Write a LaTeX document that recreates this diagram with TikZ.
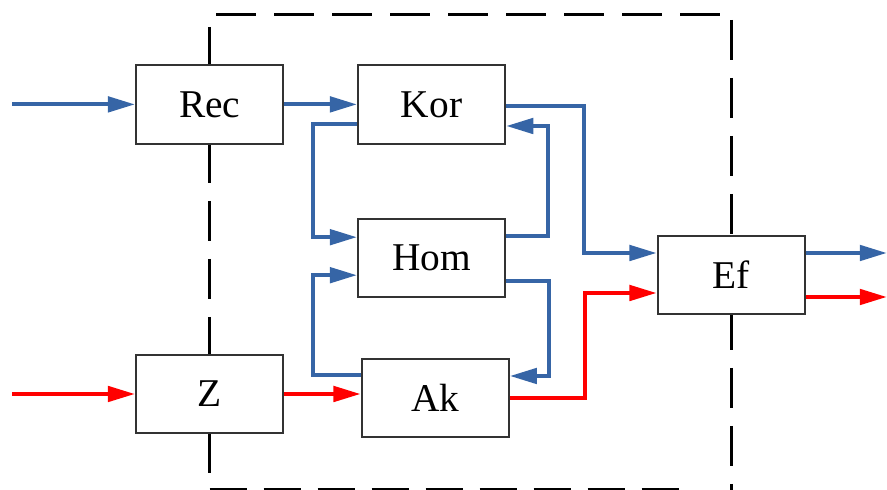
\documentclass[tikz,border=0pt]{standalone}
\usepackage{fontspec}
\setmainfont{Liberation Serif}
\usepackage{tikz}
\usetikzlibrary{arrows.meta,calc}
\definecolor{flowblue}{RGB}{54, 101, 166}
\definecolor{flowred}{RGB}{255, 0, 0}
\definecolor{boxgray}{RGB}{51, 51, 51}

\tikzset{
    block/.style={draw=boxgray, line width=1.3pt, fill=white, minimum width=3.68cm,
        minimum height=1.96cm, inner sep=0pt, font=\fontsize{28}{30}\selectfont},
    bluearrow/.style={draw=flowblue, line width=3pt,
        -{Triangle[length=0.68cm, width=0.38cm]}},
    redarrow/.style={draw=flowred, line width=3pt,
        -{Triangle[length=0.68cm, width=0.38cm]}},
    frameline/.style={draw=black, line width=2.2pt, dash pattern=on 1cm off 0.45cm}
}

\begin{document}
\begin{tikzpicture}
    \useasboundingbox (0,0) rectangle (22.175,12.25);

    % Dashed boundary
    \draw[frameline] (5.24,11.575) -- (5.24,0.425);
    \draw[frameline] (5.4,11.89) -- (18.0,11.89);
    \draw[frameline] (18.29,11.75) -- (18.29,0);
    \draw[frameline, dash pattern=on 0.925cm off 0.425cm] (5.24,0.02) -- (16.97,0.02);

    % Blocks
    \node[block] (rec) at (5.24, 9.64) {Rec};
    \node[block] (kor) at (10.79, 9.64) {Kor};
    \node[block] (hom) at (10.79, 5.8) {Hom};
    \node[block] (z) at (5.24, 2.4) {Z};
    \node[block] (ak) at (10.88, 2.3) {Ak};
    \node[block] (ef) at (18.28, 5.375) {Ef};

    % Inputs
    \coordinate (inrec) at (0.3, 9.64);
    \coordinate (inz) at (0.3, 2.4);
    \draw[bluearrow] (inrec) -- (rec.west);
    \draw[redarrow] (inz) -- (z.west);

    % Forward paths
    \draw[bluearrow] (rec.east) -- (kor.west);
    \draw[redarrow] (z.east) -- (z.east -| ak.west);

    % Kor <-> Hom
    \draw[bluearrow] ([yshift=-0.49cm]kor.west) -- ++(-1.1,0) |- ([yshift=0.52cm]hom.west);
    \draw[bluearrow] ([yshift=0.55cm]hom.east) -- ++(1.05,0) |- ([yshift=-0.54cm]kor.east);

    % Hom <-> Ak
    \draw[bluearrow] ([yshift=-0.575cm]hom.east) -- ++(1.08,0) |- ([yshift=0.55cm]ak.east);
    \draw[bluearrow] ([yshift=0.575cm]ak.west) -- ++(-1.2,0) |- ([yshift=-0.43cm]hom.west);

    % Into Ef
    \draw[bluearrow] ([yshift=-0.05cm]kor.east) -- ++(1.95,0) |- ([yshift=0.55cm]ef.west);
    \draw[redarrow] (ak.east) -- ++(1.88,0) |- ([yshift=-0.45cm]ef.west);

    % Outputs
    \coordinate (outblue) at (22.175, 5.925);
    \coordinate (outred) at (22.175, 4.825);
    \draw[bluearrow] ([yshift=0.55cm]ef.east) -- (outblue);
    \draw[redarrow] ([yshift=-0.55cm]ef.east) -- (outred);
\end{tikzpicture}
\end{document}
